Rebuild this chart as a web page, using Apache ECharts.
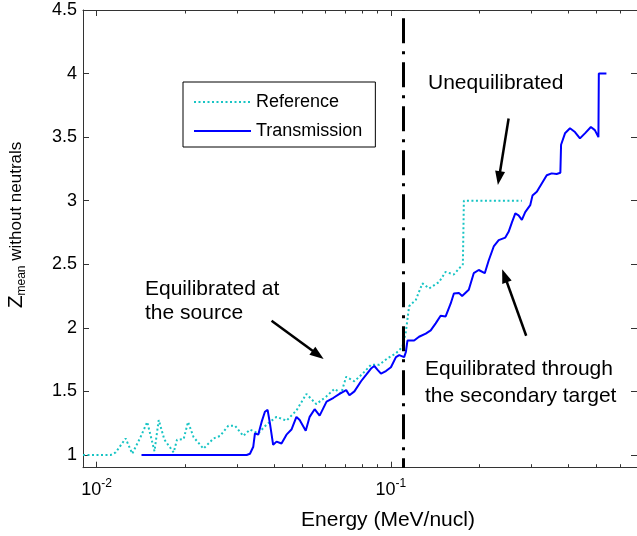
<!DOCTYPE html>
<html><head><meta charset="utf-8">
<script src="https://cdn.jsdelivr.net/npm/echarts@6/dist/echarts.min.js"></script>
<style>html,body{margin:0;padding:0;background:#fff}#c{width:637px;height:536px}</style>
</head><body><div id="c"></div>
<script>
// ---- data ----
const refEnergy = [0.009,0.01117,0.01162,0.01256,0.01323,0.01411,0.01487,0.01574,0.01627,0.01701,0.01829,0.01877,0.01977,0.02046,0.02137,0.02309,0.02496,0.02630,0.02805,0.02955,0.03152,0.03321,0.03543,0.03783,0.04089,0.04419,0.04776,0.05163,0.05580,0.06031,0.06433,0.06778,0.07047,0.07516,0.08017,0.08558,0.09131,0.09739,0.1040,0.1094,0.1124,0.1153,0.1215,0.1279,0.1348,0.1456,0.1534,0.1636,0.1724,0.1755,0.1769,0.2784];
const refZ      = [1.0,1.0,1.02,1.13,1.01,1.14,1.26,1.03,1.275,1.12,1.02,1.12,1.125,1.26,1.14,1.05,1.13,1.15,1.23,1.23,1.15,1.20,1.17,1.24,1.30,1.27,1.35,1.48,1.40,1.46,1.52,1.485,1.615,1.58,1.64,1.71,1.71,1.76,1.80,1.85,1.97,2.17,2.22,2.35,2.31,2.36,2.44,2.42,2.48,2.50,3.0,3.0];
const trEnergy  = [0.01422,0.03237,0.03321,0.03408,0.03453,0.03543,0.03638,0.03733,0.03812,0.03881,0.03981,0.04089,0.04250,0.04419,0.04594,0.04776,0.04899,0.05136,0.05297,0.05507,0.05726,0.06045,0.06384,0.06689,0.07047,0.07229,0.07516,0.07916,0.08233,0.08558,0.08782,0.09010,0.09252,0.09618,0.1,0.1040,0.1067,0.1109,0.1124,0.1138,0.1168,0.1199,0.1246,0.1313,0.1365,0.1419,0.1475,0.1534,0.1595,0.1636,0.1701,0.1745,0.1838,0.1911,0.1987,0.2083,0.2148,0.2234,0.2323,0.2446,0.2510,0.2576,0.2645,0.2713,0.2784,0.2858,0.2972,0.3025,0.3129,0.3253,0.3382,0.3515,0.3655,0.3762,0.3783,0.3901,0.4056,0.4217,0.4385,0.4559,0.4776,0.4927,0.5066,0.5082,0.5393];
const trZ       = [1.0,1.0,1.01,1.065,1.17,1.16,1.26,1.34,1.355,1.25,1.08,1.105,1.09,1.16,1.20,1.30,1.275,1.19,1.30,1.36,1.31,1.42,1.45,1.48,1.51,1.47,1.50,1.58,1.63,1.68,1.70,1.67,1.64,1.66,1.69,1.77,1.785,1.77,1.81,1.90,1.90,1.90,1.93,1.955,1.98,2.035,2.095,2.09,2.19,2.27,2.275,2.25,2.30,2.43,2.455,2.43,2.53,2.64,2.69,2.71,2.755,2.83,2.90,2.885,2.85,2.91,2.965,3.04,3.07,3.135,3.20,3.215,3.21,3.22,3.44,3.53,3.57,3.54,3.49,3.53,3.58,3.555,3.50,4.0,4.0];
const seriesNames = ['Reference','Transmission'];
const xMajorTicks = [0.01,0.1];
const xMinorTicks = [0.02,0.03,0.04,0.05,0.06,0.07,0.08,0.09,0.2,0.3,0.4,0.5,0.6];
const yTicks = [1,1.5,2,2.5,3,3.5,4,4.5];
const markerEnergy = 0.1137;
const arrowFrom = [[0.2510,3.647],[0.03932,2.056],[0.2880,1.938]];
const arrowTo   = [[0.2328,3.177],[0.05654,1.788],[0.2432,2.410]];
const notes = ['Unequilibrated','Equilibrated at','the source','Equilibrated through','the secondary target'];

const FONT = '"Liberation Sans", Arial, Helvetica, sans-serif';
const chart = echarts.init(document.getElementById('c'));
const axisCol = '#333';
function xAx(pos, ticks, len, showLine, showLabel){
  return {
    type:'log', logBase:10, min:0.009, max:0.685, position:pos,
    axisLine:{show:showLine, onZero:false, lineStyle:{color:axisCol, width:1}},
    axisTick:{show:true, inside:true, length:len, customValues:ticks, lineStyle:{color:axisCol, width:1}},
    axisLabel:{show:showLabel, customValues:ticks, margin:10, color:'#000',
      formatter:v=>'{b|10}{s|'+Math.round(Math.log10(v))+'}',
      rich:{b:{fontSize:18, fontFamily:FONT, color:'#000', lineHeight:24},
            s:{fontSize:12, fontFamily:FONT, color:'#000', verticalAlign:'top', lineHeight:10}}},
    splitLine:{show:false}, minorTick:{show:false}
  };
}
function yAx(pos, showLabel){
  return {
    type:'value', min:0.9, max:4.5, position:pos,
    axisLine:{show:true, lineStyle:{color:axisCol, width:1}},
    axisTick:{show:true, inside:true, length:6, customValues:yTicks, lineStyle:{color:axisCol}},
    axisLabel:{show:showLabel, customValues:yTicks, margin:6, fontSize:18, fontFamily:FONT, color:'#000', formatter:v=>String(v)},
    splitLine:{show:false}
  };
}
const arrowLines = arrowFrom.map((f,i)=>[
  {coord:f, symbol:'none', lineStyle:{color:'#000', width:2.5}},
  {coord:arrowTo[i], symbol:'triangle', symbolSize:[10,14]}
]);
chart.setOption({
  animation:false,
  textStyle:{fontFamily:FONT},
  grid:{left:83, right:-2, top:10, bottom:68.3, containLabel:false},
  xAxis:[xAx('bottom',xMajorTicks,6,true,true), xAx('bottom',xMinorTicks,3.5,false,false),
         xAx('top',xMajorTicks,6,true,false), xAx('top',xMinorTicks,3.5,false,false)],
  yAxis:[yAx('left',true), yAx('right',false)],
  legend:{data:seriesNames, orient:'vertical', left:183, top:82, padding:[11,13,7,10],
    itemWidth:57, itemHeight:18, itemGap:11, borderColor:'#000', borderWidth:1,
    backgroundColor:'#fff', selectedMode:false, itemStyle:{opacity:0},
    textStyle:{fontSize:18, fontFamily:FONT, color:'#000'}},
  series:[
    {name:seriesNames[0], type:'line', symbol:'none', data:refEnergy.map((e,i)=>[e,refZ[i]]),
     lineStyle:{color:'#17c4c4', width:2, type:[2,2.5]}, itemStyle:{color:'#17c4c4'}, z:3},
    {name:seriesNames[1], type:'line', symbol:'none', data:trEnergy.map((e,i)=>[e,trZ[i]]),
     lineStyle:{color:'#0000ff', width:2}, itemStyle:{color:'#0000ff'}, z:4,
     markLine:{silent:true, animation:false, label:{show:false}, symbol:['none','none'],
       data:[
         {xAxis:markerEnergy, lineStyle:{color:'#000', width:3, type:[25,8,3,8], dashOffset:15.5}},
         ...arrowLines
       ],
       lineStyle:{color:'#000', width:2.5, type:'solid'}}}
  ],
  graphic:[
    {type:'text', x:428, y:83.5, style:{text:notes[0], fontSize:21, fontFamily:FONT, fill:'#000', align:'left', verticalAlign:'middle'}},
    {type:'text', x:145, y:289, style:{text:notes[1], fontSize:21, fontFamily:FONT, fill:'#000', align:'left', verticalAlign:'middle'}},
    {type:'text', x:145, y:313, style:{text:notes[2], fontSize:21, fontFamily:FONT, fill:'#000', align:'left', verticalAlign:'middle'}},
    {type:'text', x:425, y:369.2, style:{text:notes[3], fontSize:21, fontFamily:FONT, fill:'#000', align:'left', verticalAlign:'middle'}},
    {type:'text', x:425, y:395.8, style:{text:notes[4], fontSize:21, fontFamily:FONT, fill:'#000', align:'left', verticalAlign:'middle'}},
    {type:'text', x:388, y:520.3, style:{text:'Energy (MeV/nucl)', fontSize:21, fontFamily:FONT, fill:'#000', align:'center', verticalAlign:'middle'}},
    {type:'text', x:16, y:225, rotation:Math.PI/2,
     style:{text:'{z|Z}{s|mean}{r| without neutrals}', align:'center', verticalAlign:'middle', fill:'#000',
       rich:{z:{fontSize:21, fontFamily:FONT, fill:'#000', lineHeight:24},
             s:{fontSize:12, fontFamily:FONT, fill:'#000', verticalAlign:'bottom', lineHeight:13},
             r:{fontSize:17, fontFamily:FONT, fill:'#000', lineHeight:24}}}}
  ]
});
</script></body></html>
